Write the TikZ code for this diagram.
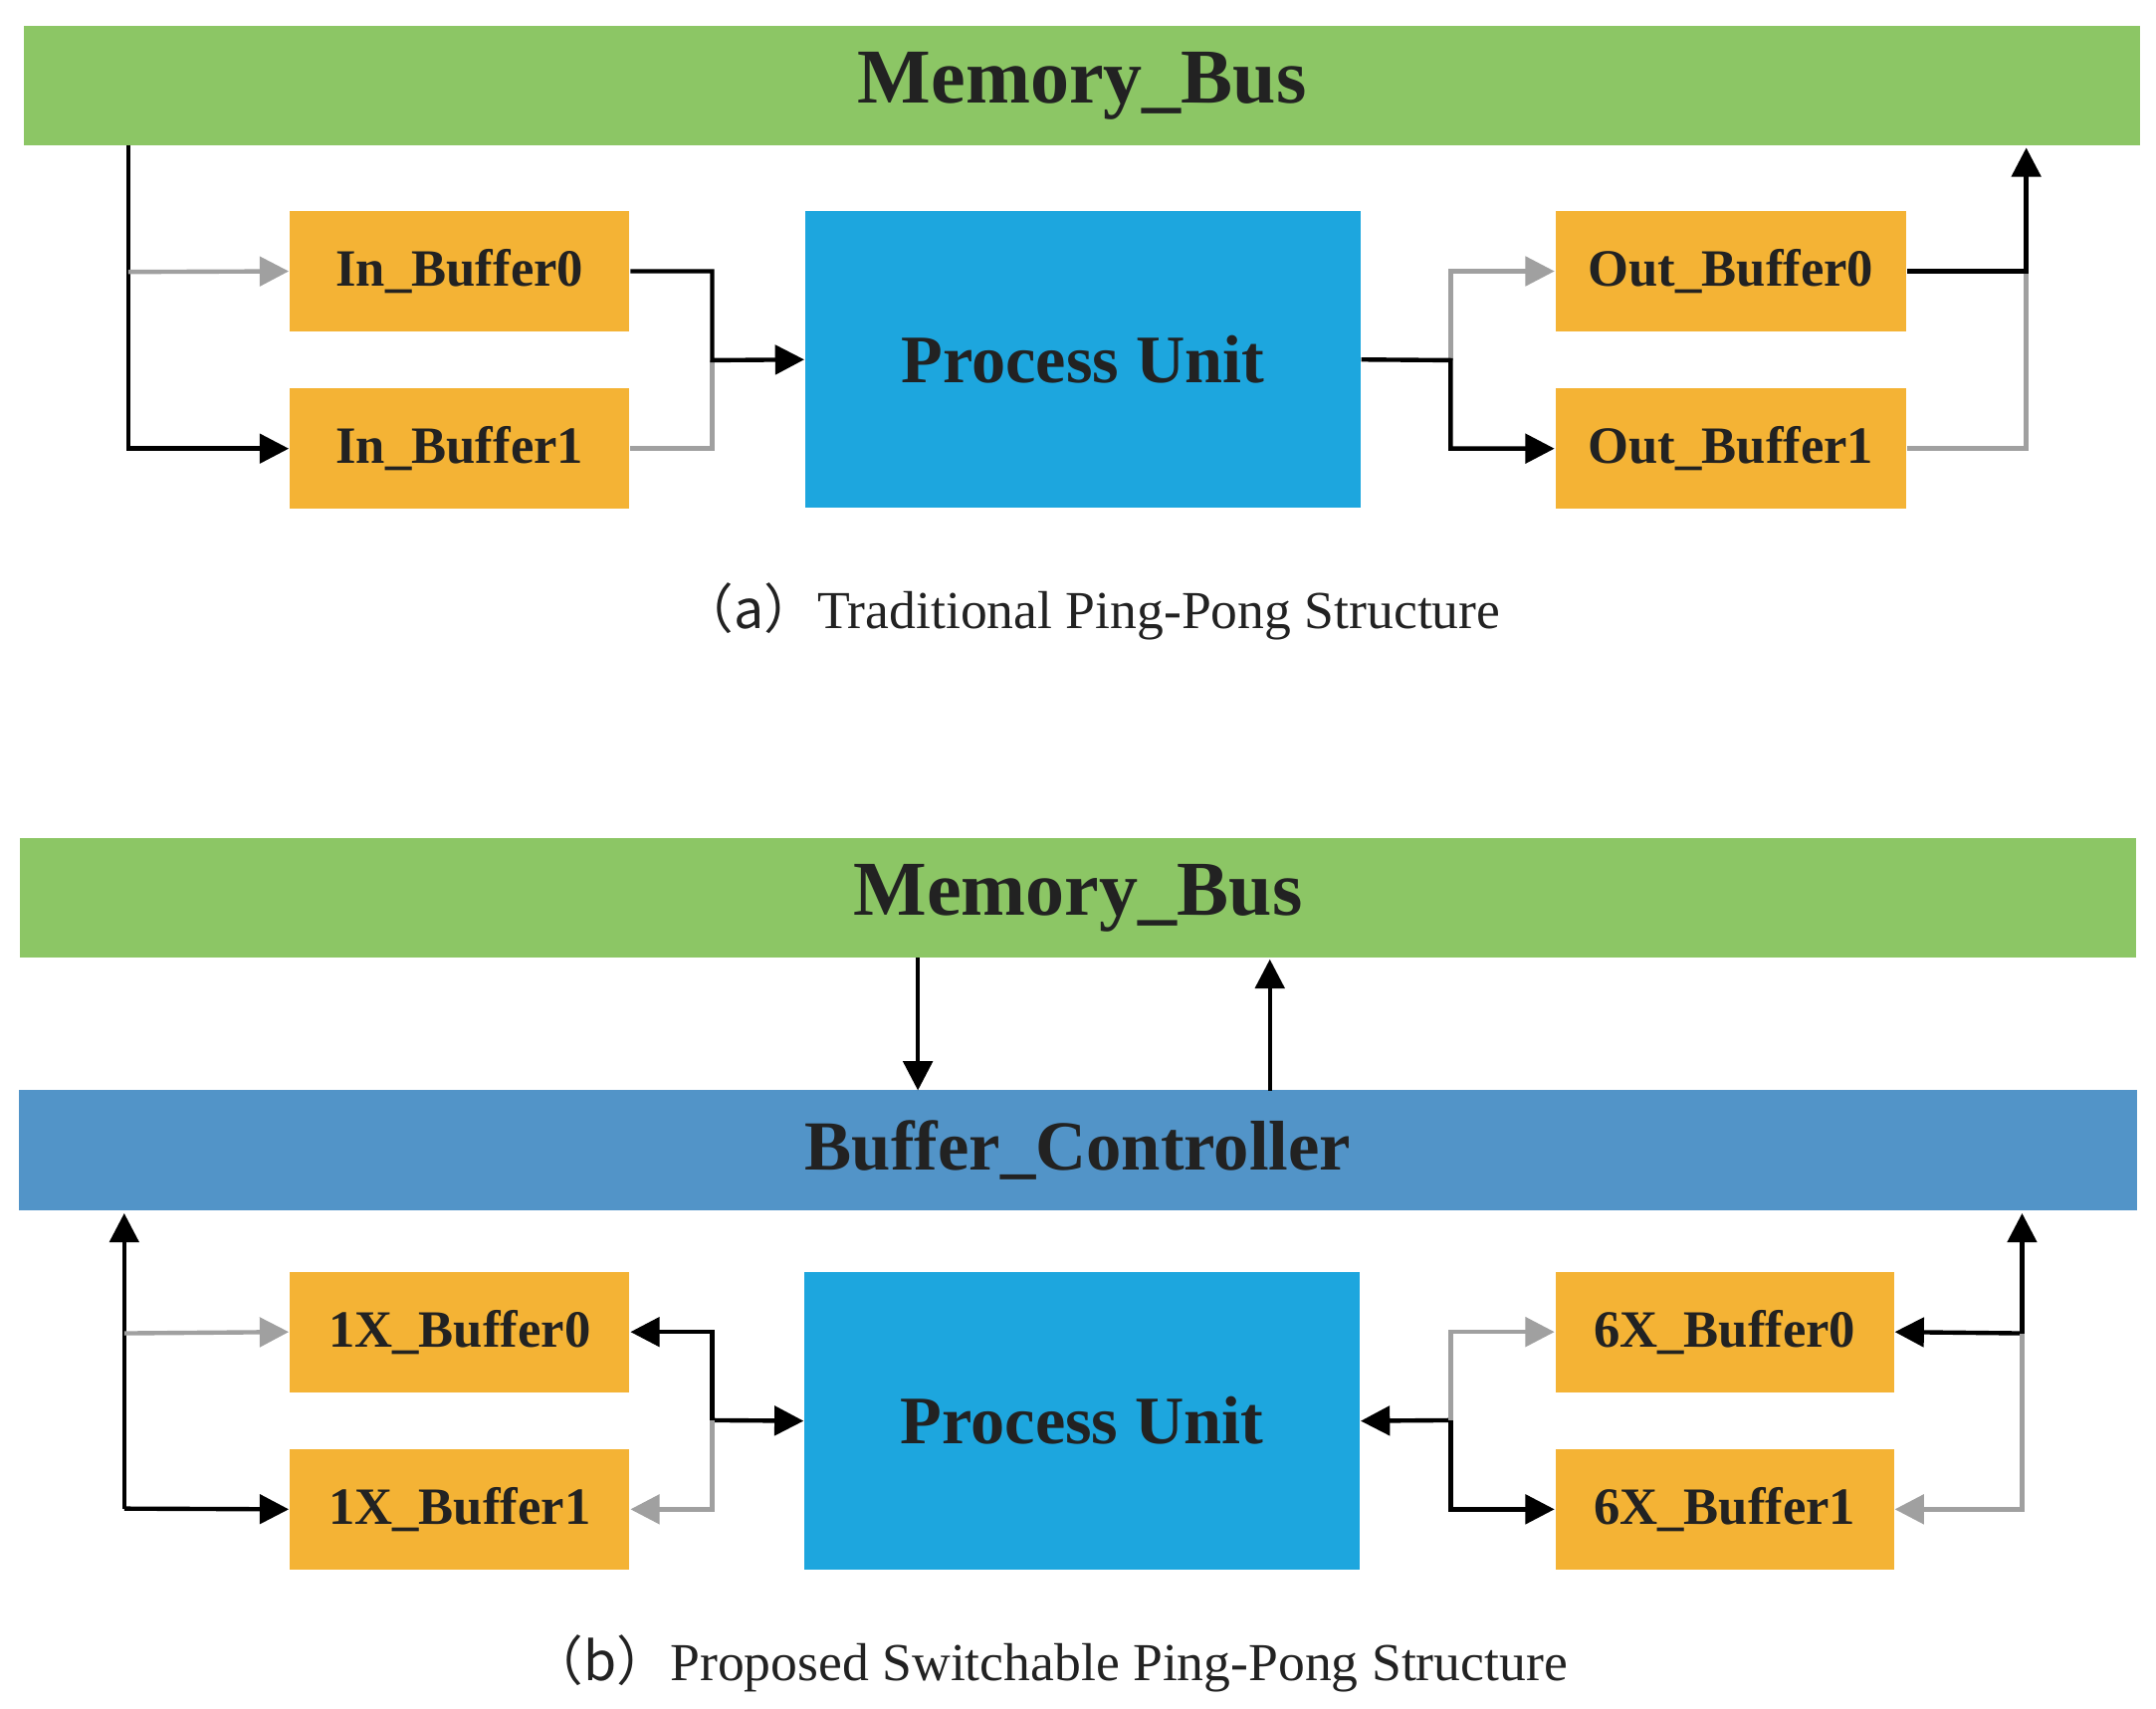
\documentclass[tikz,border=0pt]{standalone}
\usepackage{fontspec}
\setmainfont{Liberation Serif}
\newfontfamily\cjk{Noto Sans CJK SC}
\usetikzlibrary{arrows.meta}
\definecolor{busg}{HTML}{8CC665}
\definecolor{bufo}{HTML}{F4B335}
\definecolor{pub}{HTML}{1DA6DE}
\definecolor{ctl}{HTML}{5294C8}
\definecolor{gr}{HTML}{A0A0A0}
\definecolor{tx}{HTML}{222222}
\begin{document}
\begin{tikzpicture}[x=0.01cm,y=-0.01cm,
 box/.style={draw=none,inner sep=0,text=tx,font=\bfseries},
 bus/.style={box,fill=busg,minimum width=15.32cm,minimum height=0.86cm,font=\fontsize{16}{18}\bfseries\selectfont},
 buf/.style={box,fill=bufo,minimum height=0.87cm,font=\fontsize{10.8}{12}\bfseries\selectfont},
 pu/.style={box,fill=pub,minimum width=4.02cm,minimum height=2.15cm,font=\fontsize{14}{16}\bfseries\selectfont},
 bk/.style={line width=0.9pt,black,-{Triangle[length=6pt,width=6pt]}},
 gy/.style={line width=0.9pt,gr,-{Triangle[length=6pt,width=6pt]}},
 bkn/.style={line width=0.9pt,black},
 gyn/.style={line width=0.9pt,gr},
 captxt/.style={font=\fontsize{11}{13}\selectfont,text=tx}]
\useasboundingbox (0,0) rectangle (1562,1238);
% (a)
\node[bus] (bus1) at (784,62) {Memory\_Bus};
\node[buf,minimum width=2.46cm] (ib0) at (333,196.5) {In\_Buffer0};
\node[buf,minimum width=2.46cm] (ib1) at (333,325) {In\_Buffer1};
\node[pu] (pu1) at (784.5,260.5) {Process Unit};
\node[buf,minimum width=2.54cm] (ob0) at (1254,196.5) {Out\_Buffer0};
\node[buf,minimum width=2.54cm] (ob1) at (1254,325) {Out\_Buffer1};
\node[captxt] (ca) at (790,443) {{\cjk （a）}Traditional Ping-Pong Structure};
\coordinate (a1) at (93,105);
\coordinate (a2) at (93,197);
\draw[bk] (a1) |- (ib1.west);
\draw[gy] (a2) -- (ib0.west);
\coordinate (m1) at (516,261);
\draw[gyn] (ib1.east) -| (m1);
\draw[bk] (ib0.east) -| (m1) -- (pu1.west);
\coordinate (m2) at (1051,261);
\draw[gy] (m2) |- (ob0.west);
\draw[bk] (pu1.east) -- (m2) |- (ob1.west);
\coordinate (r1) at (1468,197);
\coordinate (r0) at (1468,107);
\draw[gyn] (ob1.east) -| (r1);
\draw[bk] (ob0.east) -| (r0);
% (b)
\node[bus] (bus2) at (781,650.5) {Memory\_Bus};
\node[box,fill=ctl,minimum width=15.34cm,minimum height=0.87cm,font=\fontsize{14.5}{16}\bfseries\selectfont] (bc) at (781,833.5) {Buffer\_Controller};
\draw[bk] (665,694) -- (665,790);
\draw[bk] (920,790) -- (920,695);
\node[buf,minimum width=2.46cm] (xb0) at (333,965) {1X\_Buffer0};
\node[buf,minimum width=2.46cm] (xb1) at (333,1093.5) {1X\_Buffer1};
\node[pu] (pu2) at (784,1029.5) {Process Unit};
\node[buf,minimum width=2.45cm] (sb0) at (1249.5,965) {6X\_Buffer0};
\node[buf,minimum width=2.45cm] (sb1) at (1249.5,1093.5) {6X\_Buffer1};
\node[captxt] (cb) at (760,1205) {{\cjk （b）}Proposed Switchable Ping-Pong Structure};
\coordinate (l0) at (90,1093);
\coordinate (l1) at (90,966);
\draw[bk] (l0) -- (90,879);
\draw[bk] (l0) -- (xb1.west);
\draw[gy] (l1) -- (xb0.west);
\coordinate (n1) at (516,1029);
\draw[bk] (n1) |- (xb0.east);
\draw[bk] (n1) -- (pu2.west);
\draw[gy] (n1) |- (xb1.east);
\coordinate (n2) at (1051,1029);
\draw[bk] (n2) -- (pu2.east);
\draw[bk] (n2) |- (sb1.west);
\draw[gy] (n2) |- (sb0.west);
\coordinate (q1) at (1465,966);
\draw[bk] (q1) -- (1465,879);
\draw[bk] (q1) -- (sb0.east);
\draw[gy] (q1) |- (sb1.east);
\end{tikzpicture}
\end{document}
